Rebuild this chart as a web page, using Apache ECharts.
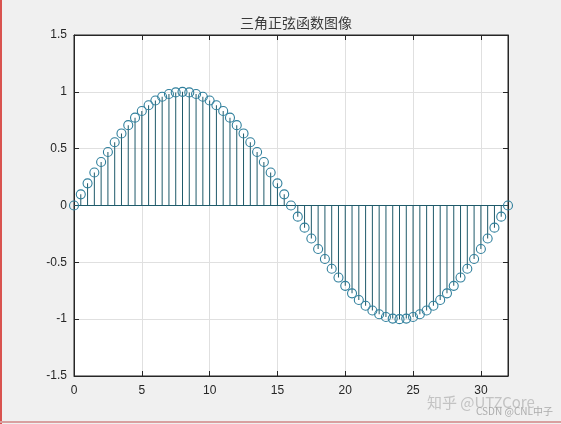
<!DOCTYPE html>
<html><head><meta charset="utf-8">
<script src="https://cdn.jsdelivr.net/npm/echarts@6/dist/echarts.min.js"></script>
<style>html,body{margin:0;padding:0;background:#f0f0f0}#c{width:561px;height:424px}</style>
</head><body><div id="c"></div>
<script>
const title = '三角正弦函数图像';
const xValues = [0,0.5,1,1.5,2,2.5,3,3.5,4,4.5,5,5.5,6,6.5,7,7.5,8,8.5,9,9.5,10,10.5,11,11.5,12,12.5,13,13.5,14,14.5,15,15.5,16,16.5,17,17.5,18,18.5,19,19.5,20,20.5,21,21.5,22,22.5,23,23.5,24,24.5,25,25.5,26,26.5,27,27.5,28,28.5,29,29.5,30,30.5,31,31.5,32];
const yValues = [0,0.098,0.195,0.290,0.383,0.471,0.556,0.634,0.707,0.773,0.831,0.882,0.924,0.957,0.981,0.995,1,0.995,0.981,0.957,0.924,0.882,0.831,0.773,0.707,0.634,0.556,0.471,0.383,0.290,0.195,0.098,0,-0.098,-0.195,-0.290,-0.383,-0.471,-0.556,-0.634,-0.707,-0.773,-0.831,-0.882,-0.924,-0.957,-0.981,-0.995,-1,-0.995,-0.981,-0.957,-0.924,-0.882,-0.831,-0.773,-0.707,-0.634,-0.556,-0.471,-0.383,-0.290,-0.195,-0.098,0];
const xTicks = [0,5,10,15,20,25,30];
const yTicks = [-1.5,-1,-0.5,0,0.5,1,1.5];

const pts = xValues.map((x,i)=>[x,yValues[i]]);
const chart = echarts.init(document.getElementById('c'), null, {renderer:'canvas'});
const labelStyle = {color:'#262626', fontFamily:'Liberation Sans, Arial', fontSize:12};
const baseX = {type:'value', min:0, max:32, interval:5,
  axisLine:{show:true, onZero:false, lineStyle:{color:'#262626'}},
  axisTick:{show:true, inside:true, length:5, lineStyle:{color:'#262626'}},
  splitLine:{show:false}};
const baseY = {type:'value', min:-1.5, max:1.5, interval:0.5,
  axisLine:{show:true, onZero:false, lineStyle:{color:'#262626'}},
  axisTick:{show:true, inside:true, length:5, lineStyle:{color:'#262626'}},
  splitLine:{show:false}};
chart.setOption({
  backgroundColor:'#f0f0f0',
  animation:false,
  title:{text:title, left:291, top:11, textAlign:'center',
    textStyle:{fontFamily:'Noto Sans CJK SC', fontWeight:'normal', fontSize:14, color:'#3a3a3a'}},
  grid:{left:74, right:53, top:35, bottom:48, show:true, backgroundColor:'#ffffff', borderColor:'#262626', borderWidth:1},
  xAxis:[
    Object.assign({}, baseX, {position:'bottom',
      axisLabel:Object.assign({margin:9, showMaxLabel:false, formatter:v=>xTicks.includes(v)?String(v):''}, labelStyle),
      splitLine:{show:true, lineStyle:{color:'#e0e0e0', width:1}}}),
    Object.assign({}, baseX, {position:'top', axisLabel:{show:false}})
  ],
  yAxis:[
    Object.assign({}, baseY, {position:'left',
      axisLabel:Object.assign({margin:7, formatter:v=>yTicks.includes(v)?String(v):''}, labelStyle),
      splitLine:{show:true, lineStyle:{color:'#e0e0e0', width:1}}}),
    Object.assign({}, baseY, {position:'right', axisLabel:{show:false}})
  ],
  series:[
    {type:'bar', data:pts, barWidth:1, itemStyle:{color:'#1f5a6a'}, silent:true,
     markLine:{symbol:'none', silent:true, label:{show:false}, lineStyle:{color:'#1f5a6a', type:'solid', width:1.2},
       data:[{yAxis:0}]}},
    {type:'scatter', data:pts, symbol:'circle', symbolSize:9,
     itemStyle:{color:'rgba(0,0,0,0)', borderColor:'#2f7f9c', borderWidth:1.1, opacity:1}, z:5}
  ],
  graphic:[
    {type:'rect', left:0, top:0, shape:{width:2, height:424}, style:{fill:'#d9534f'}},
    {type:'rect', left:0, top:421, shape:{width:561, height:2}, style:{fill:'#d9a0a0'}},
    {type:'text', left:427, top:395, style:{text:'知乎 @UTZCore', fill:'rgba(150,150,150,0.5)', font:'15px Noto Sans CJK SC'}},
    {type:'text', left:476, top:406, style:{text:'CSDN @CNL中子', fill:'rgba(160,160,160,0.85)', font:'10px Noto Sans CJK SC'}}
  ]
});
</script></body></html>
